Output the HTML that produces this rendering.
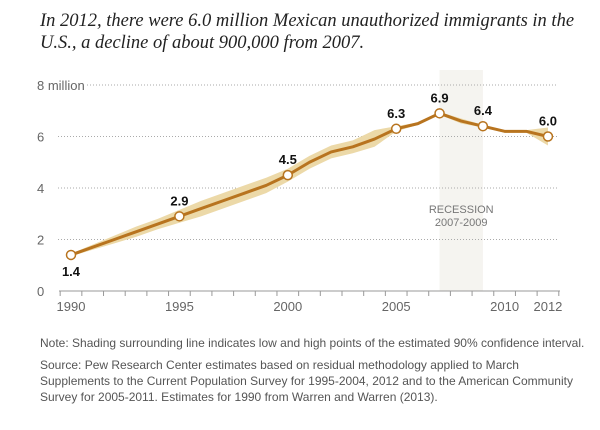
<!DOCTYPE html>
<html><head><meta charset="utf-8"><style>
body{margin:0;background:#fff;width:600px;height:430px;overflow:hidden;font-family:"Liberation Sans",sans-serif}
.title{position:absolute;left:40px;top:10px;font-family:"Liberation Serif",serif;font-style:italic;font-size:18.5px;line-height:22px;color:#222;width:580px;white-space:nowrap}
.note{position:absolute;left:40px;font-size:12px;color:#555;line-height:16px;width:580px;white-space:nowrap}
</style></head><body>
<div class="title">In 2012, there were 6.0 million Mexican unauthorized immigrants in the<br>U.S., a decline of about 900,000 from 2007.</div>
<svg id="chart" width="600" height="320" style="position:absolute;left:0;top:0"></svg>
<div class="note" style="top:335px">Note: Shading surrounding line indicates low and high points of the estimated 90% confidence interval.</div>
<div class="note" style="top:357px">Source: Pew Research Center estimates based on residual methodology applied to March<br>Supplements to the Current Population Survey for 1995-2004, 2012 and to the American Community<br>Survey for 2005-2011. Estimates for 1990 from Warren and Warren (2013).</div>
<script>
const years=[1990,1991,1992,1993,1994,1995,1996,1997,1998,1999,2000,2001,2002,2003,2004,2005,2006,2007,2008,2009,2010,2011,2012];
const values=[1.4,1.7,2.0,2.3,2.6,2.9,3.2,3.5,3.8,4.1,4.5,5.0,5.4,5.6,5.9,6.3,6.5,6.9,6.6,6.4,6.2,6.2,6.0];
const lows=[1.35,1.6,1.85,2.1,2.4,2.65,2.9,3.2,3.5,3.8,4.25,4.75,5.15,5.35,5.6,6.2,6.45,6.85,6.5,6.35,6.15,6.15,5.65];
const highs=[1.45,1.8,2.15,2.5,2.8,3.15,3.5,3.8,4.1,4.4,4.75,5.25,5.65,5.85,6.25,6.4,6.55,6.95,6.7,6.45,6.25,6.25,6.35];
const labeled=[1990,1995,2000,2005,2007,2009,2012];
const yTicks=[0,2,4,6,8];
const xLabels=[1990,1995,2000,2005,2010,2012];
const NS="http://www.w3.org/2000/svg",svg=document.getElementById('chart');
const x=y=>71+(y-1990)*21.68, y=v=>291-v*25.75;
function mk(t,a,p){const e=document.createElementNS(NS,t);for(const k in a)e.setAttribute(k,a[k]);(p||svg).appendChild(e);return e;}
const rec=mk('rect',{x:x(2007),y:70,width:x(2009)-x(2007),height:221,fill:'#f5f4f0'});


yTicks.forEach(v=>{
 if(v>0){const g=mk('line',{x1:v==8?87:58,x2:558,y1:y(v),y2:y(v),stroke:'#aaa','stroke-dasharray':'1 2'});
 
 }
 const t=mk('text',{x:37,y:y(v)+5,'font-size':13,fill:'#666'});t.textContent=v==8?'8 million':v;
 
 
});
const ax=mk('line',{x1:59,x2:560,y1:291,y2:291,stroke:'#999'});


for(let i=0;i<=years.length;i++){const tx=x(1990+i)-10.84;mk('line',{x1:tx,x2:tx,y1:291,y2:296,stroke:'#999'});}
xLabels.forEach(yr=>{const t=mk('text',{x:x(yr),y:311,'font-size':13,fill:'#666','text-anchor':'middle'});t.textContent=yr;
 
 });
const rt=mk('text',{x:x(2008),y:213,'font-size':11,fill:'#777','text-anchor':'middle'});
rt.innerHTML='<tspan x="'+x(2008)+'">RECESSION</tspan><tspan x="'+x(2008)+'" dy="13">2007-2009</tspan>';


let d='M'+years.map((yr,i)=>x(yr)+','+y(highs[i])).join('L')+'L'+years.map((yr,i)=>x(yr)+','+y(lows[i])).reverse().join('L')+'Z';
const band=mk('path',{d:d,fill:'#ecd9a8'});


const ln=mk('polyline',{points:years.map((yr,i)=>x(yr)+','+y(values[i])).join(' '),fill:'none',stroke:'#b8741f','stroke-width':3,'stroke-linejoin':'round'});


labeled.forEach(yr=>{const i=years.indexOf(yr);
 const c=mk('circle',{cx:x(yr),cy:y(values[i]),r:4.5,fill:'#fff',stroke:'#b8741f','stroke-width':1.5});
 
 
 const t=mk('text',{x:x(yr),y:yr==1990?y(values[i])+21:y(values[i])-11,'font-size':13,'font-weight':'bold',fill:'#111','text-anchor':'middle'});
 t.textContent=values[i].toFixed(1);
 
 
});
</script>
</body></html>
